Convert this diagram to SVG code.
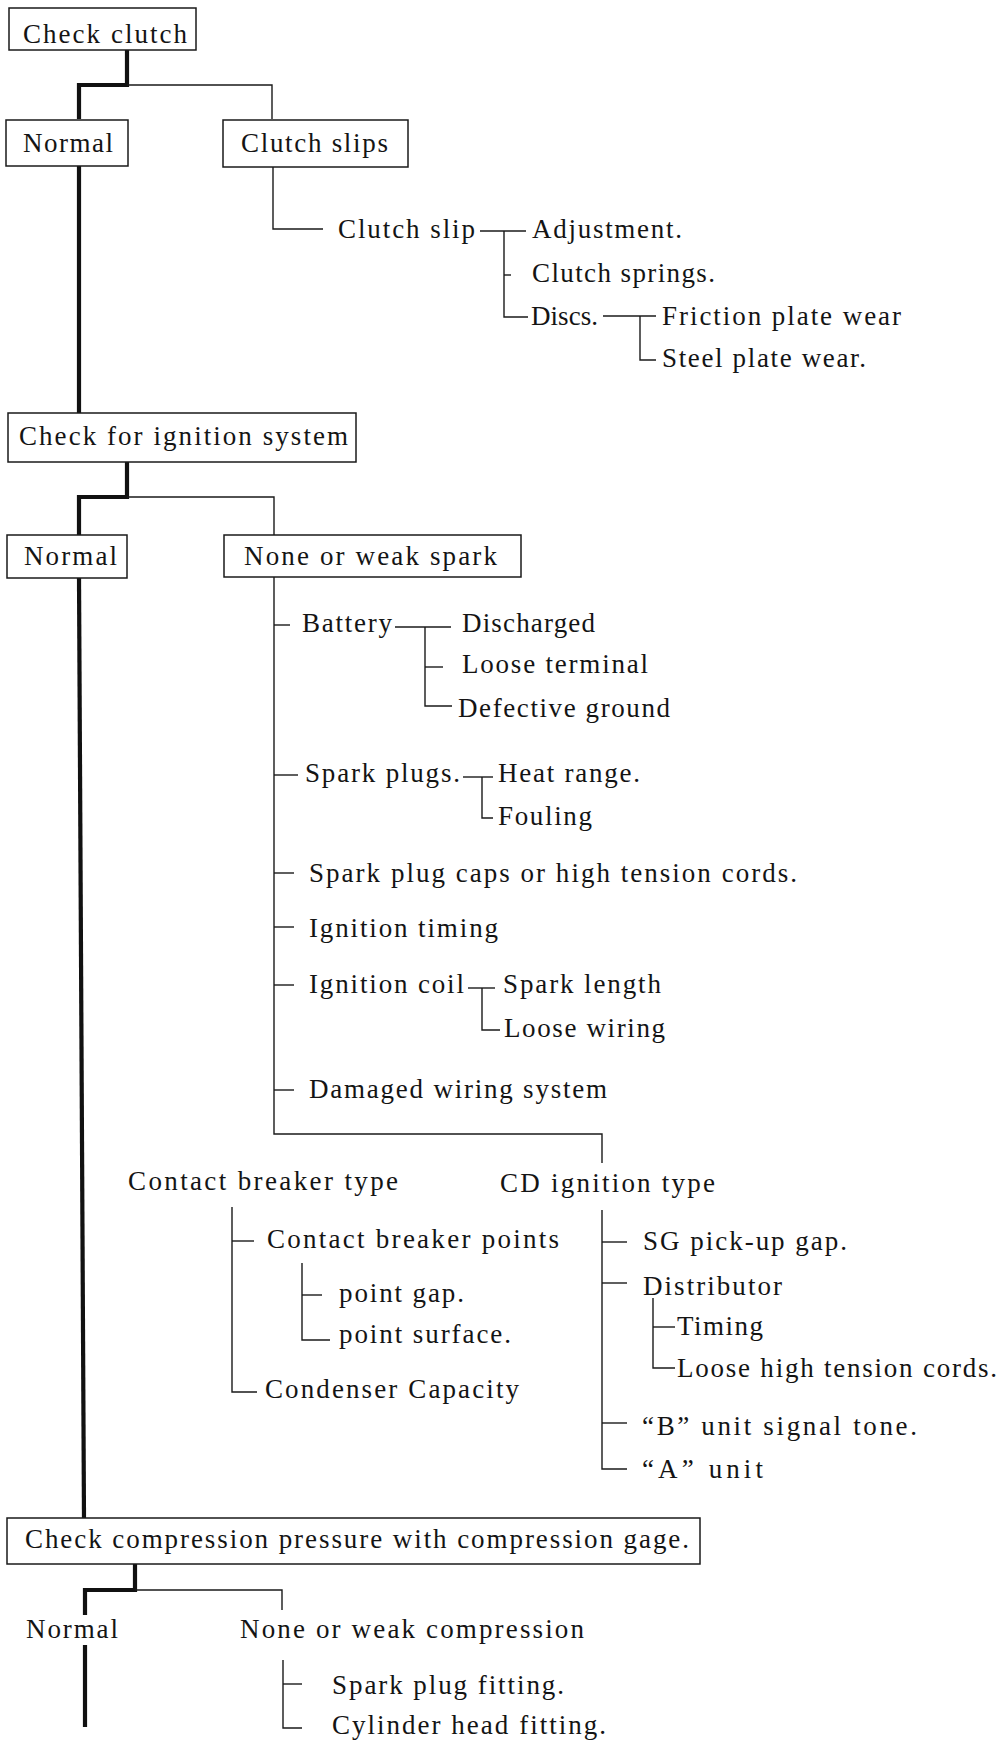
<svg xmlns="http://www.w3.org/2000/svg" width="1006" height="1744" viewBox="0 0 1006 1744">
  <style>
    .t { font-family: "Liberation Serif", "Times New Roman", serif; font-size: 27px; fill: #141414; }
    .box { fill: none; stroke: #1a1a1a; stroke-width: 1.5; }
    .thin { fill: none; stroke: #1a1a1a; stroke-width: 1.4; }
    .thick { fill: none; stroke: #111; stroke-width: 4.2; stroke-linejoin: miter; }
  </style>
  <rect width="1006" height="1744" fill="#ffffff"/>

  <!-- connectors: main trunk (thick) and branch leaders (thin) -->
  <g id="connectors">
    <!-- clutch check split -->
    <polyline class="thick" points="127,50 127,85 79,85 79,119"/>
    <polyline class="thin" points="127,85 272,85 272,119"/>
    <line class="thick" x1="79" y1="166" x2="79" y2="413"/>
    <!-- clutch slip tree -->
    <polyline class="thin" points="273,167 273,229 323,229"/>
    <line class="thin" x1="480" y1="231" x2="526" y2="231"/>
    <polyline class="thin" points="504,231 504,317 528,317"/>
    <line class="thin" x1="504" y1="275" x2="511" y2="275"/>
    <line class="thin" x1="603" y1="316" x2="656" y2="316"/>
    <polyline class="thin" points="640,316 640,360 656,360"/>

    <!-- ignition check split -->
    <polyline class="thick" points="127,462 127,497 79,497 79,535"/>
    <polyline class="thin" points="127,497 274,497 274,535"/>
    <line class="thick" x1="79" y1="578" x2="84" y2="1518"/>

    <!-- none or weak spark tree -->
    <polyline class="thin" points="274,577 274,1134 602,1134 602,1163"/>
    <line class="thin" x1="274" y1="625" x2="290" y2="625"/>
    <line class="thin" x1="395" y1="627" x2="451" y2="627"/>
    <polyline class="thin" points="425,627 425,706 452,706"/>
    <line class="thin" x1="425" y1="667" x2="443" y2="667"/>
    <line class="thin" x1="274" y1="775" x2="298" y2="775"/>
    <line class="thin" x1="463" y1="777" x2="493" y2="777"/>
    <polyline class="thin" points="482,777 482,818 493,818"/>
    <line class="thin" x1="274" y1="873" x2="294" y2="873"/>
    <line class="thin" x1="274" y1="927" x2="294" y2="927"/>
    <line class="thin" x1="274" y1="985" x2="294" y2="985"/>
    <line class="thin" x1="468" y1="988" x2="495" y2="988"/>
    <polyline class="thin" points="482,988 482,1030 500,1030"/>
    <line class="thin" x1="274" y1="1090" x2="294" y2="1090"/>

    <!-- contact breaker tree -->
    <polyline class="thin" points="232,1207 232,1392 257,1392"/>
    <line class="thin" x1="232" y1="1241" x2="254" y2="1241"/>
    <polyline class="thin" points="302,1263 302,1340 330,1340"/>
    <line class="thin" x1="302" y1="1295" x2="322" y2="1295"/>

    <!-- CD ignition tree -->
    <polyline class="thin" points="602,1210 602,1469 627,1469"/>
    <line class="thin" x1="602" y1="1242" x2="627" y2="1242"/>
    <line class="thin" x1="602" y1="1283" x2="627" y2="1283"/>
    <polyline class="thin" points="653,1298 653,1368 675,1368"/>
    <line class="thin" x1="653" y1="1327" x2="675" y2="1327"/>
    <line class="thin" x1="602" y1="1423" x2="627" y2="1423"/>

    <!-- compression check split -->
    <polyline class="thick" points="135,1564 135,1590 85,1590 85,1615"/>
    <polyline class="thin" points="135,1590 282,1590 282,1610"/>
    <line class="thick" x1="85" y1="1645" x2="85" y2="1727"/>
    <polyline class="thin" points="283,1660 283,1728 302,1728"/>
    <line class="thin" x1="283" y1="1684" x2="302" y2="1684"/>
  </g>

  <!-- clutch section -->
  <g id="check-clutch">
    <rect class="box" x="9" y="8" width="187" height="42"/>
    <text class="t" x="23" y="43" textLength="164" lengthAdjust="spacing">Check clutch</text>
  </g>
  <g id="clutch-normal">
    <rect class="box" x="6" y="120" width="122" height="46"/>
    <text class="t" x="23" y="152" textLength="90" lengthAdjust="spacing">Normal</text>
  </g>
  <g id="clutch-slips">
    <rect class="box" x="223" y="120" width="185" height="47"/>
    <text class="t" x="241" y="152" textLength="147" lengthAdjust="spacing">Clutch slips</text>
  </g>
  <g id="clutch-slip"><text class="t" x="338" y="238" textLength="137" lengthAdjust="spacing">Clutch slip</text></g>
  <g id="adjustment"><text class="t" x="532" y="238" textLength="150" lengthAdjust="spacing">Adjustment.</text></g>
  <g id="clutch-springs"><text class="t" x="532" y="282" textLength="183" lengthAdjust="spacing">Clutch springs.</text></g>
  <g id="discs"><text class="t" x="531" y="325" textLength="67" lengthAdjust="spacing">Discs.</text></g>
  <g id="friction-plate"><text class="t" x="662" y="325" textLength="239" lengthAdjust="spacing">Friction plate wear</text></g>
  <g id="steel-plate"><text class="t" x="662" y="367" textLength="204" lengthAdjust="spacing">Steel plate wear.</text></g>

  <!-- ignition section -->
  <g id="check-ignition">
    <rect class="box" x="8" y="413" width="348" height="49"/>
    <text class="t" x="19" y="445" textLength="329" lengthAdjust="spacing">Check for ignition system</text>
  </g>
  <g id="ignition-normal">
    <rect class="box" x="7" y="535" width="120" height="43"/>
    <text class="t" x="24" y="565" textLength="93" lengthAdjust="spacing">Normal</text>
  </g>
  <g id="weak-spark">
    <rect class="box" x="224" y="535" width="297" height="42"/>
    <text class="t" x="244" y="565" textLength="253" lengthAdjust="spacing">None or weak spark</text>
  </g>
  <g id="battery"><text class="t" x="302" y="632" textLength="90" lengthAdjust="spacing">Battery</text></g>
  <g id="discharged"><text class="t" x="462" y="632" textLength="133" lengthAdjust="spacing">Discharged</text></g>
  <g id="loose-terminal"><text class="t" x="462" y="673" textLength="186" lengthAdjust="spacing">Loose terminal</text></g>
  <g id="defective-ground"><text class="t" x="458" y="717" textLength="212" lengthAdjust="spacing">Defective ground</text></g>
  <g id="spark-plugs"><text class="t" x="305" y="782" textLength="155" lengthAdjust="spacing">Spark plugs.</text></g>
  <g id="heat-range"><text class="t" x="498" y="782" textLength="142" lengthAdjust="spacing">Heat range.</text></g>
  <g id="fouling"><text class="t" x="498" y="825" textLength="94" lengthAdjust="spacing">Fouling</text></g>
  <g id="plug-caps"><text class="t" x="309" y="882" textLength="488" lengthAdjust="spacing">Spark plug caps or high tension cords.</text></g>
  <g id="ignition-timing"><text class="t" x="309" y="937" textLength="189" lengthAdjust="spacing">Ignition timing</text></g>
  <g id="ignition-coil"><text class="t" x="309" y="993" textLength="155" lengthAdjust="spacing">Ignition coil</text></g>
  <g id="spark-length"><text class="t" x="503" y="993" textLength="158" lengthAdjust="spacing">Spark length</text></g>
  <g id="loose-wiring"><text class="t" x="504" y="1037" textLength="161" lengthAdjust="spacing">Loose wiring</text></g>
  <g id="damaged-wiring"><text class="t" x="309" y="1098" textLength="298" lengthAdjust="spacing">Damaged wiring system</text></g>

  <g id="contact-breaker-type"><text class="t" x="128" y="1190" textLength="270" lengthAdjust="spacing">Contact breaker type</text></g>
  <g id="cb-points"><text class="t" x="267" y="1248" textLength="292" lengthAdjust="spacing">Contact breaker points</text></g>
  <g id="point-gap"><text class="t" x="339" y="1302" textLength="125" lengthAdjust="spacing">point gap.</text></g>
  <g id="point-surface"><text class="t" x="339" y="1343" textLength="172" lengthAdjust="spacing">point surface.</text></g>
  <g id="condenser"><text class="t" x="265" y="1398" textLength="254" lengthAdjust="spacing">Condenser Capacity</text></g>

  <g id="cd-ignition-type"><text class="t" x="500" y="1192" textLength="215" lengthAdjust="spacing">CD ignition type</text></g>
  <g id="sg-gap"><text class="t" x="643" y="1250" textLength="204" lengthAdjust="spacing">SG pick-up gap.</text></g>
  <g id="distributor"><text class="t" x="643" y="1295" textLength="139" lengthAdjust="spacing">Distributor</text></g>
  <g id="timing"><text class="t" x="677" y="1335" textLength="86" lengthAdjust="spacing">Timing</text></g>
  <g id="loose-cords"><text class="t" x="677" y="1377" textLength="320" lengthAdjust="spacing">Loose high tension cords.</text></g>
  <g id="b-unit"><text class="t" x="642" y="1435" textLength="275" lengthAdjust="spacing">“B” unit signal tone.</text></g>
  <g id="a-unit"><text class="t" x="642" y="1478" textLength="121" lengthAdjust="spacing">“A” unit</text></g>

  <!-- compression section -->
  <g id="check-compression">
    <rect class="box" x="7" y="1518" width="693" height="46"/>
    <text class="t" x="25" y="1548" textLength="664" lengthAdjust="spacing">Check compression pressure with compression gage.</text>
  </g>
  <g id="compression-normal"><text class="t" x="26" y="1638" textLength="92" lengthAdjust="spacing">Normal</text></g>
  <g id="weak-compression"><text class="t" x="240" y="1638" textLength="344" lengthAdjust="spacing">None or weak compression</text></g>
  <g id="plug-fitting"><text class="t" x="332" y="1694" textLength="232" lengthAdjust="spacing">Spark plug fitting.</text></g>
  <g id="head-fitting"><text class="t" x="332" y="1734" textLength="274" lengthAdjust="spacing">Cylinder head fitting.</text></g>
</svg>
